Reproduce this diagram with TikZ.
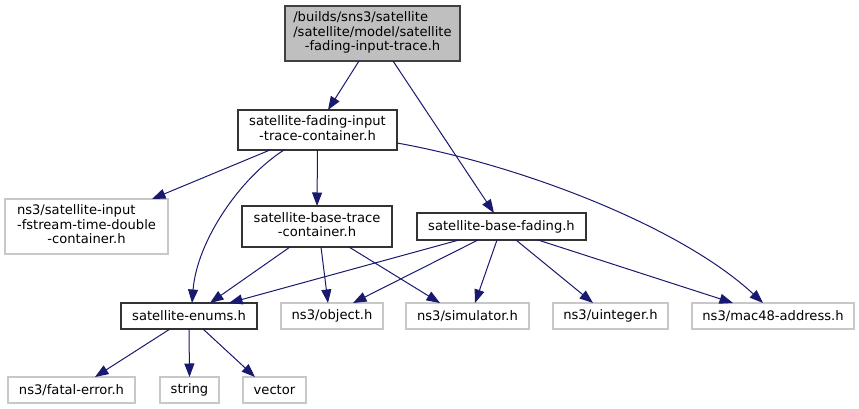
\documentclass[tikz,border=0pt]{standalone}
\usepackage{fontspec}
\setmainfont{DejaVu Sans}
\usetikzlibrary{arrows.meta}
\definecolor{edgecol}{HTML}{191970}
\definecolor{grey75}{HTML}{BFBFBF}
\definecolor{extborder}{HTML}{C8C8C8}
\newcommand{\lines}[2]{\begin{tabular}{@{}l@{}}#1\\\multicolumn{1}{@{}c@{}}{#2}\end{tabular}}
\tikzset{
  box/.style={rectangle, inner sep=0pt, outer sep=0pt, font=\fontsize{13.1}{14.5}\selectfont, text=black},
  proj/.style={box, draw=black!80, line width=1.1pt, fill=white},
  ext/.style={box, draw=extborder, line width=1.1pt, fill=white},
  rootbox/.style={box, draw=black!75, line width=1.1pt, fill=grey75},
  dep/.style={draw=edgecol, line width=1pt, -{Triangle[length=13.5pt,width=10pt]}}
}
\begin{document}
\begin{tikzpicture}[x=1pt,y=-1pt]
\useasboundingbox (0,0) rectangle (859,409);
% nodes
\node[rootbox, minimum width=175pt, minimum height=55pt] (root) at (372.5,33.5)
  {\lines{/builds/sns3/satellite\\/satellite/model/satellite}{-fading-input-trace.h}};
\node[proj, minimum width=159pt, minimum height=40pt] (cont) at (317.5,130)
  {\lines{satellite-fading-input}{-trace-container.h}};
\node[ext, minimum width=163pt, minimum height=55pt] (fstream) at (86.5,226.5)
  {\lines{ns3/satellite-input\\-fstream-time-double}{-container.h}};
\node[proj, minimum width=150pt, minimum height=41pt] (btrace) at (317,226.5)
  {\lines{satellite-base-trace}{-container.h}};
\node[proj, minimum width=169pt, minimum height=27pt] (bfading) at (501.5,226.5)
  {satellite-base-fading.h};
\node[proj, minimum width=136pt, minimum height=26pt] (enums) at (189,316)
  {satellite-enums.h};
\node[ext, minimum width=102pt, minimum height=26pt] (object) at (332,316)
  {ns3/object.h};
\node[ext, minimum width=123pt, minimum height=26pt] (sim) at (467.5,316)
  {ns3/simulator.h};
\node[ext, minimum width=115pt, minimum height=26pt] (uint) at (610.5,316)
  {ns3/uinteger.h};
\node[ext, minimum width=162pt, minimum height=26pt] (mac) at (773,316)
  {ns3/mac48-address.h};
\node[ext, minimum width=127pt, minimum height=26pt] (fatal) at (71.5,390)
  {ns3/fatal-error.h};
\node[ext, minimum width=59pt, minimum height=26pt] (string) at (189.5,390)
  {string};
\node[ext, minimum width=63pt, minimum height=26pt] (vector) at (274.5,390)
  {vector};
% edges
\draw[dep] ([xshift=-13.5pt]root.south) -- ([xshift=10.5pt]cont.north);
\draw[dep] ([xshift=20.5pt]root.south) -- ([xshift=-7.5pt]bfading.north);
\draw[dep] ([xshift=-47.5pt]cont.south) -- ([xshift=65.5pt]fstream.north);
\draw[dep] ([xshift=-33.5pt]cont.south) .. controls ([xshift=-77.5pt,yshift=-28pt]cont.south) and ([xshift=8pt,yshift=62pt]enums.north) .. ([xshift=3pt]enums.north);
\draw[dep] (cont.south) -- (btrace.north);
\draw[dep] ([yshift=-13pt]cont.east) .. controls ([xshift=123pt,yshift=-35pt]cont.east) and ([xshift=-93pt,yshift=77pt]mac.north) .. ([xshift=-10pt]mac.north);
\draw[dep] ([xshift=-27pt]btrace.south) -- ([xshift=21pt]enums.north);
\draw[dep] ([xshift=4pt]btrace.south) -- ([xshift=-4pt]object.north);
\draw[dep] ([xshift=32pt]btrace.south) -- ([xshift=-27.5pt]sim.north);
\draw[dep] ([xshift=-42.5pt]bfading.south) -- ([xshift=40pt]enums.north);
\draw[dep] ([xshift=-23.5pt]bfading.south) -- ([xshift=21pt]object.north);
\draw[dep] ([xshift=-4.5pt]bfading.south) -- ([xshift=7.5pt]sim.north);
\draw[dep] ([xshift=14.5pt]bfading.south) -- ([xshift=-17.5pt]uint.north);
\draw[dep] ([xshift=36.5pt]bfading.south) -- ([xshift=-40pt]mac.north);
\draw[dep] ([xshift=-19pt]enums.south) -- ([xshift=23.5pt]fatal.north);
\draw[dep] (enums.south) -- (string.north);
\draw[dep] ([xshift=14pt]enums.south) -- ([xshift=-19.5pt]vector.north);
\end{tikzpicture}
\end{document}
